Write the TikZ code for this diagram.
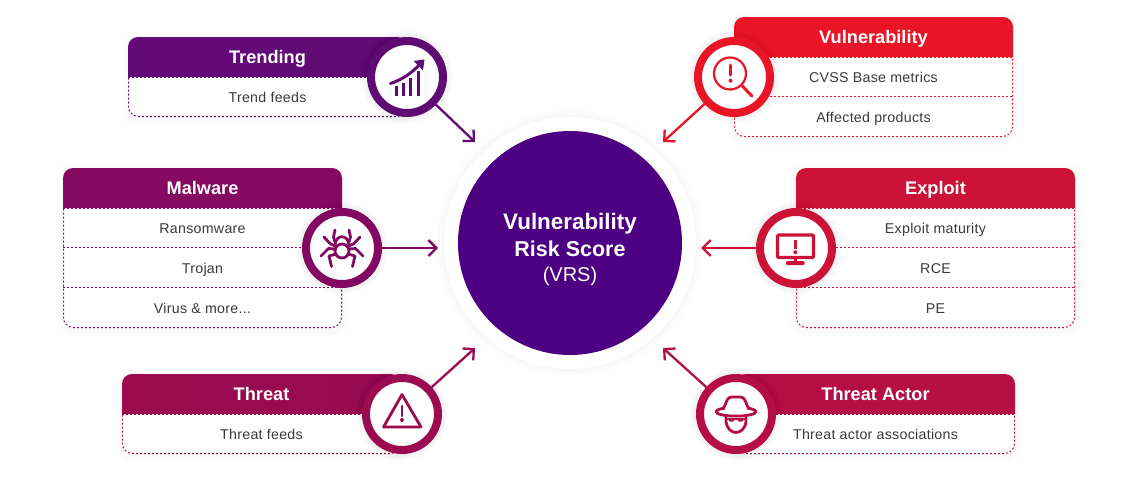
\documentclass[tikz,border=0pt]{standalone}
\usepackage{fontspec}
\setmainfont{Liberation Sans}
\newfontfamily\rowfont[LetterSpace=2]{Liberation Sans}
\usetikzlibrary{arrows.meta}
\definecolor{cTrendL}{HTML}{640A78}\definecolor{cTrendR}{HTML}{5F0B74}
\definecolor{cVulnL}{HTML}{E91527}\definecolor{cVulnR}{HTML}{E91527}
\definecolor{cMalL}{HTML}{870A61}\definecolor{cMalR}{HTML}{82095F}
\definecolor{cExpL}{HTML}{CD1237}\definecolor{cExpR}{HTML}{CD1237}
\definecolor{cThrL}{HTML}{9C0B50}\definecolor{cThrR}{HTML}{960A52}
\definecolor{cActL}{HTML}{B40E45}\definecolor{cActR}{HTML}{B60F44}
\definecolor{cCore}{HTML}{4D0082}
\definecolor{cInk}{HTML}{3A3A3A}
\tikzset{
  ringnode/.style={circle,draw=#1,line width=8pt,fill=white,minimum size=72pt,inner sep=0pt},
  conn/.style={line width=2.3pt,draw=#1,-{Straight Barb[length=8pt,width=16pt,line width=2.3pt]}},
  dotline/.style={line width=1pt,draw=#1,dash pattern=on 2pt off 2pt},
  headtext/.style={text=white,font=\fontsize{18.2}{20}\selectfont\bfseries,inner sep=0pt,anchor=base},
  rowtext/.style={text=cInk,font=\rowfont\fontsize{14.2}{16}\selectfont,inner sep=0pt,anchor=base},
  coretext/.style={text=white,font=\fontsize{22.4}{25}\selectfont\bfseries,inner sep=0pt,anchor=base},
  icon/.style={line width=2.8pt,draw=#1,line cap=round,line join=round},
}
% id, x, y, rows, base colour stem, title
\newcommand{\cardbox}[6]{%
  \begin{scope}[shift={(#2,#3)}]
    \pgfmathsetmacro{\hh}{40+40*#4}
    \foreach \s in {1,...,7}
      \fill[black,opacity=.004,rounded corners=12pt] (-\s,-\s+2) rectangle (279+\s,\hh+\s+2);
    \fill[white,rounded corners=10pt] (0,30) rectangle (279,\hh);
    \shade[left color=#5L,right color=#5R,rounded corners=10pt]
      (0,40) {[rounded corners=10pt] -- (0,0) -- (279,0)} [sharp corners] -- (279,40) -- cycle;
    \draw[dotline=#5L] (.5,40.5) [rounded corners=10pt] -- (.5,\hh-.5) -- (278.5,\hh-.5) -- (278.5,40.5);
    \draw[dotline=#5L] (0,40.5) -- (279,40.5);
    \ifnum#4>1 \foreach \r in {2,...,#4} \draw[dotline=#5L] (0,{40*\r-.5+.0}) -- (279,{40*\r-.5}); \fi
    \node[headtext] (#1) at (139.5,26) {#6};
  \end{scope}}
\newcommand{\ringshadow}[1]{%
  \foreach \s in {41,...,47} \fill[black,opacity=.006] (#1) circle (\s);}
\begin{document}
\begin{tikzpicture}[x=1pt,y=-1pt]
\useasboundingbox (0,0) rectangle (1140,485);
\fill[white] (0,0) rectangle (1140,485);

% centre
\foreach \s in {127,...,134} \fill[black,opacity=.004] (570,243) circle (\s);
\node[circle,fill=white,minimum size=252pt,inner sep=0pt] (halo) at (570,243) {};
\node[circle,fill=cCore,minimum size=224pt,inner sep=0pt] (core) at (570,243) {};
\node[coretext] (coreA) at (570,229.5) {Vulnerability};
\node[coretext,font=\fontsize{21.5}{25}\selectfont\bfseries] (coreB) at (570,256) {Risk Score};
\node[coretext,font=\fontsize{20}{24}\selectfont] (coreC) at (570,281.5) {(VRS)};

% cards
\cardbox{tTrend}{128}{37}{1}{cTrend}{Trending}
\node[rowtext] (rTrend) at (267.5,102.5) {Trend feeds};
\cardbox{tVuln}{734}{17}{2}{cVuln}{Vulnerability}
\node[rowtext] (rVulnA) at (873.5,82.5) {CVSS Base metrics};
\node[rowtext] (rVulnB) at (873.5,122.5) {Affected products};
\cardbox{tMal}{63}{168}{3}{cMal}{Malware}
\node[rowtext] (rMalA) at (202.5,233.5) {Ransomware};
\node[rowtext] (rMalB) at (202.5,273.5) {Trojan};
\node[rowtext] (rMalC) at (202.5,313.5) {Virus \& more...};
\cardbox{tExp}{796}{168}{3}{cExp}{Exploit}
\node[rowtext] (rExpA) at (935.5,233.5) {Exploit maturity};
\node[rowtext] (rExpB) at (935.5,273.5) {RCE};
\node[rowtext] (rExpC) at (935.5,313.5) {PE};
\cardbox{tThr}{122}{374}{1}{cThr}{Threat}
\node[rowtext] (rThr) at (261.5,439.5) {Threat feeds};
\cardbox{tAct}{736}{374}{1}{cAct}{Threat Actor}
\node[rowtext] (rAct) at (875.5,439.5) {Threat actor associations};

% ring shadows
\ringshadow{407,77}\ringshadow{734,77}\ringshadow{342,248}\ringshadow{796,248}\ringshadow{402,414}\ringshadow{736,414}

% rings
\node[ringnode=cTrendR] (iTrend) at (407,77) {};
\node[ringnode=cVulnL] (iVuln) at (734,77) {};
\node[ringnode=cMalR] (iMal) at (342,248) {};
\node[ringnode=cExpL] (iExp) at (796,248) {};
\node[ringnode=cThrL] (iThr) at (402,414) {};
\node[ringnode=cActL] (iAct) at (736,414) {};

% connector ends
\coordinate (eTrend) at (475,142);
\coordinate (eVuln) at (663,142);
\coordinate (eMal) at (438,248);
\coordinate (eExp) at (701,248);
\coordinate (eThr) at (475,348);
\coordinate (eAct) at (663,348);
\draw[conn=cTrendR] (iTrend) -- (eTrend);
\draw[conn=cVulnL] (iVuln) -- (eVuln);
\draw[conn=cMalR] (iMal) -- (eMal);
\draw[conn=cExpL] (iExp) -- (eExp);
\draw[conn=cThrL] (iThr) -- (eThr);
\draw[conn=cActL] (iAct) -- (eAct);

% trending icon
\begin{scope}[shift={(iTrend.center)},icon=cTrendR]
  \draw[line width=3pt,line cap=butt] (-11,18.5) -- (-11,9) (-3.7,18.5) -- (-3.7,5.5) (3.7,18.5) -- (3.7,.5) (11.3,18.5) -- (11.3,-6.5);
  \draw[line width=3pt] (-16.5,6.5) .. controls (-4,2.5) and (6,-5) .. (14,-14);
  \fill[cTrendR] (17.5,-17.5) -- (6.5,-16) -- (16,-6.5) -- cycle;
\end{scope}

% magnifier icon
\begin{scope}[shift={(iVuln.center)},icon=cVulnL]
  \draw[line width=2.2pt] (-4,-3.5) circle (16);
  \draw[line width=3pt] (-3.5,-12) -- (-3.5,-2);
  \fill[cVulnL] (-3.5,3.7) circle (2);
  \draw[line width=3pt] (8.5,9.2) -- (17.8,19);
\end{scope}

% spider icon
\begin{scope}[shift={(iMal.center)},icon=cMalR]
  \draw (0,3) circle (7);
  \draw (-7,-3) .. controls (-6.5,-14) and (6.5,-14) .. (7,-3);
  \draw (-7,-6) -- (-8.5,-11) -- (-7,-18);
  \draw (7,-6) -- (8.5,-11) -- (7,-18);
  \draw (-18,-11) -- (-12,-4.5) -- (-7,-2);
  \draw (18,-11) -- (12,-4.5) -- (7,-2);
  \draw (-21,8) -- (-13.5,.5) -- (-7,1);
  \draw (21,8) -- (13.5,.5) -- (7,1);
  \draw (-10.5,18.5) -- (-13,8) -- (-6,6);
  \draw (10.5,18.5) -- (13,8) -- (6,6);
\end{scope}

% monitor icon
\begin{scope}[shift={(iExp.center)},icon=cExpL]
  \draw[line width=3.2pt,rounded corners=1pt] (-18.5,-13) rectangle (17.5,9.5);
  \draw[line width=3pt,line cap=butt] (-.7,-8.5) -- (-.7,1);
  \fill[cExpL] (-.7,4.2) circle (2);
  \draw[line width=3.4pt,line cap=butt] (-.7,10) -- (-.7,14);
  \fill[cExpL,rounded corners=1.2pt] (-10,13) rectangle (8.5,17);
\end{scope}

% warning icon
\begin{scope}[shift={(iThr.center)},icon=cThrL]
  \draw (0,-19.5) -- (-18.5,13) -- (19,13) -- cycle;
  \draw[line width=2.8pt] (0,-8) -- (0,2);
  \fill[cThrL] (0,6) circle (2);
\end{scope}

% hat icon
\begin{scope}[shift={(iAct.center)},icon=cActL]
  \draw (0,-2.3) ellipse (20 and 4.4);
  \fill[white] (-12,-5.5) -- (-7,-17) -- (7,-17) -- (12,-5.5) .. controls (5,-1) and (-5,-1) .. cycle;
  \draw[rounded corners=3pt] (-12.5,-5.5) -- (-7.5,-17) -- (7.5,-17) -- (12.5,-5.5);
  \draw (-10,3.5) -- (-10,7) .. controls (-9.5,15) and (-4,18.5) .. (0,18.5) .. controls (4,18.5) and (9.5,15) .. (10,7) -- (10,3.5);
  \fill[cActL] (-4.5,6) ellipse (3 and 1.8) (4.5,6) ellipse (3 and 1.8);
  \draw[line width=1.6pt] (-10,5) -- (10,5);
\end{scope}
\end{tikzpicture}
\end{document}
